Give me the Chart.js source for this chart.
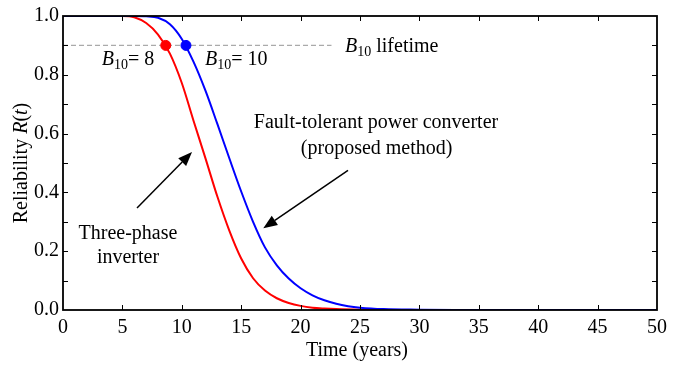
<!DOCTYPE html>
<html>
<head>
<meta charset="utf-8">
<script src="https://cdn.jsdelivr.net/npm/chart.js@4/dist/chart.umd.min.js"></script>
<style>
  html, body { margin: 0; padding: 0; background: #fff; }
  #wrap { width: 692px; height: 367px; }
</style>
</head>
<body>
<div id="wrap"><canvas id="relChart" width="692" height="367"></canvas></div>
<script>
// --- DATA ---
const inverterYears = [0, 5, 6, 7, 8, 9, 10, 11, 12, 13, 14, 15, 16, 17, 18, 19, 20, 21, 22, 23, 25, 28, 50];
const inverterRel   = [1, 1, 0.996, 0.976, 0.937, 0.872, 0.772, 0.642, 0.515, 0.385, 0.27, 0.175, 0.108, 0.066, 0.04, 0.024, 0.014, 0.008, 0.005, 0.003, 0.001, 0, 0];

const converterYears = [0, 6, 7, 8, 9, 10, 11, 12, 13, 14, 15, 16, 17, 18, 19, 20, 21, 22, 23, 24, 25, 27, 30, 33, 50];
const converterRel   = [1, 1, 0.999, 0.994, 0.972, 0.922, 0.843, 0.745, 0.632, 0.516, 0.403, 0.3, 0.213, 0.152, 0.107, 0.074, 0.05, 0.033, 0.021, 0.013, 0.008, 0.003, 0.001, 0, 0];

const b10Level = 0.9;
const b10Years = [8.65, 10.35];          // red, blue markers
const b10LineEnd = 22.6;                 // dashed reference line stops here
const xTicks = { min: 0, max: 50, step: 5 };
const yTicks = { min: 0, max: 1, step: 0.1 };

const SERIF = "'Liberation Serif', 'Times New Roman', serif";
const RED = '#ff0000';
const BLUE = '#0000ff';

function toPoints(xs, ys) {
    return xs.map((v, i) => ({ x: v, y: ys[i] }));
}

// helper: B_10 with subscript, then the rest of the text
function drawB10(ctx, x, y, rest) {
    ctx.textBaseline = 'middle';
    ctx.textAlign = 'left';
    ctx.font = 'italic 20px ' + SERIF;
    ctx.fillText('B', x, y);
    let cx = x + ctx.measureText('B').width;
    ctx.font = '14px ' + SERIF;
    ctx.fillText('10', cx, y + 5);
    cx += ctx.measureText('10').width;
    ctx.font = '20px ' + SERIF;
    ctx.fillText(rest, cx, y);
}

function drawArrow(ctx, x0, y0, x1, y1) {
    const ang = Math.atan2(y1 - y0, x1 - x0);
    const len = 14, half = 5.5;
    const bx = x1 - len * Math.cos(ang), by = y1 - len * Math.sin(ang);
    ctx.beginPath();
    ctx.moveTo(x0, y0);
    ctx.lineTo(bx, by);
    ctx.lineWidth = 1.5;
    ctx.stroke();
    ctx.beginPath();
    ctx.moveTo(x1, y1);
    ctx.lineTo(bx + half * Math.sin(ang), by - half * Math.cos(ang));
    ctx.lineTo(bx - half * Math.sin(ang), by + half * Math.cos(ang));
    ctx.closePath();
    ctx.fill();
}

// frame, inward ticks, axis titles and annotations
const decorPlugin = {
    id: 'decor',
    afterDraw(chart) {
        const { ctx, chartArea: a, scales: { x, y } } = chart;
        const X = v => x.getPixelForValue(v);
        const Y = v => y.getPixelForValue(v);
        ctx.save();
        ctx.strokeStyle = '#000';
        ctx.fillStyle = '#000';

        // inward ticks
        ctx.lineWidth = 1;
        ctx.beginPath();
        for (let v = xTicks.min + xTicks.step; v < xTicks.max; v += xTicks.step) {
            const px = Math.round(X(v)) + 0.5;
            ctx.moveTo(px, a.bottom); ctx.lineTo(px, a.bottom - 5);
            ctx.moveTo(px, a.top); ctx.lineTo(px, a.top + 5);
        }
        for (let i = 1; i < 10; i++) {
            const py = Math.round(Y(i * yTicks.step)) + 0.5;
            ctx.moveTo(a.left, py); ctx.lineTo(a.left + 5, py);
            ctx.moveTo(a.right, py); ctx.lineTo(a.right - 5, py);
        }
        ctx.stroke();

        // frame
        ctx.lineWidth = 1.8;
        ctx.strokeRect(a.left, a.top, a.right - a.left, a.bottom - a.top);

        // axis titles
        ctx.font = '20px ' + SERIF;
        ctx.textAlign = 'center';
        ctx.textBaseline = 'middle';
        ctx.fillText('Time (years)', (a.left + a.right) / 2 - 3, 351);

        ctx.save();
        ctx.translate(22, (a.top + a.bottom) / 2);
        ctx.rotate(-Math.PI / 2);
        const parts = [['Reliability ', '20px '], ['R', 'italic 20px '], ['(', '20px '], ['t', 'italic 20px '], [')', '20px ']];
        let total = 0;
        parts.forEach(p => { ctx.font = p[1] + SERIF; total += ctx.measureText(p[0]).width; });
        let cx = -total / 2;
        ctx.textAlign = 'left';
        parts.forEach(p => { ctx.font = p[1] + SERIF; ctx.fillText(p[0], cx, 0); cx += ctx.measureText(p[0]).width; });
        ctx.restore();

        // B10 labels
        drawB10(ctx, X(23.74), Y(0.895), ' lifetime');
        drawB10(ctx, X(3.26), Y(0.85), '= 8');
        drawB10(ctx, X(11.95), Y(0.85), '= 10');

        // text notes
        ctx.font = '20px ' + SERIF;
        ctx.textAlign = 'center';
        ctx.textBaseline = 'middle';
        ctx.fillText('Fault-tolerant power converter', X(26.35), Y(0.636));
        ctx.fillText('(proposed method)', X(26.4), Y(0.549));
        ctx.fillText('Three-phase', X(5.47), Y(0.259));
        ctx.fillText('inverter', X(5.47), Y(0.178));

        // arrows
        drawArrow(ctx, X(6.23), Y(0.347), X(10.86), Y(0.537));
        drawArrow(ctx, X(23.99), Y(0.475), X(16.86), Y(0.278));

        ctx.restore();
    }
};

const relCtx = document.getElementById('relChart').getContext('2d');
new Chart(relCtx, {
    type: 'scatter',
    data: {
        datasets: [
            {
                label: 'B10 point (converter)',
                data: [{ x: b10Years[1], y: b10Level }],
                backgroundColor: BLUE,
                borderColor: BLUE,
                pointRadius: 5,
                order: 0
            },
            {
                label: 'B10 point (inverter)',
                data: [{ x: b10Years[0], y: b10Level }],
                backgroundColor: RED,
                borderColor: RED,
                pointRadius: 5,
                order: 0
            },
            {
                label: 'Fault-tolerant power converter',
                data: toPoints(converterYears, converterRel),
                showLine: true,
                borderColor: BLUE,
                borderWidth: 2,
                pointRadius: 0,
                cubicInterpolationMode: 'monotone',
                order: 1
            },
            {
                label: 'Three-phase inverter',
                data: toPoints(inverterYears, inverterRel),
                showLine: true,
                borderColor: RED,
                borderWidth: 2,
                pointRadius: 0,
                cubicInterpolationMode: 'monotone',
                order: 2
            },
            {
                label: 'B10 lifetime',
                data: [{ x: 0, y: b10Level }, { x: b10LineEnd, y: b10Level }],
                showLine: true,
                borderColor: '#aaaaaa',
                borderWidth: 1.2,
                borderDash: [5, 3],
                pointRadius: 0,
                order: 3
            }
        ]
    },
    options: {
        responsive: false,
        animation: false,
        devicePixelRatio: 1,
        layout: { padding: { top: 13, right: 35, left: 0, bottom: 0 } },
        scales: {
            x: {
                type: 'linear',
                min: xTicks.min,
                max: xTicks.max,
                grid: { display: false, drawTicks: false },
                border: { display: false },
                ticks: {
                    stepSize: xTicks.step,
                    color: '#000',
                    padding: 6,
                    maxRotation: 0,
                    font: { family: SERIF, size: 20 }
                },
                afterFit: s => { s.height = 57; }
            },
            y: {
                min: yTicks.min,
                max: yTicks.max,
                grid: { display: false, drawTicks: false },
                border: { display: false },
                ticks: {
                    stepSize: yTicks.step,
                    color: '#000',
                    padding: 4,
                    font: { family: SERIF, size: 20 },
                    callback: v => (Math.round(v * 10) % 2 === 0 ? v.toFixed(1) : '')
                },
                afterFit: s => { s.width = 63; }
            }
        },
        plugins: {
            legend: { display: false },
            tooltip: { enabled: false }
        }
    },
    plugins: [decorPlugin]
});
</script>
</body>
</html>
